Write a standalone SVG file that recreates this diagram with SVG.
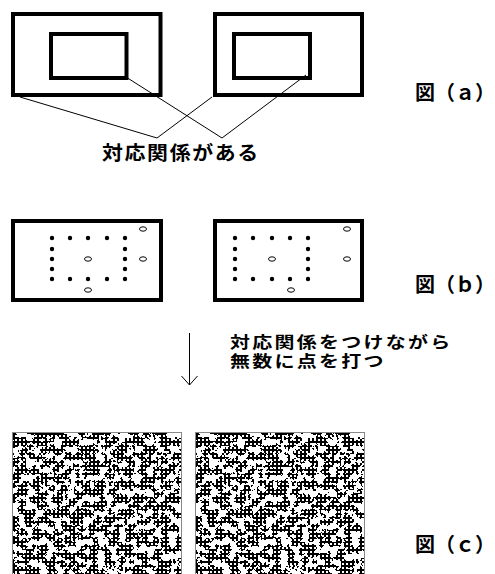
<svg xmlns="http://www.w3.org/2000/svg" xmlns:xlink="http://www.w3.org/1999/xlink" width="495" height="574" viewBox="0 0 495 574">
<style>
.box{fill:none;stroke:#000;stroke-width:4}
.ln{fill:none;stroke:#000;stroke-width:1}
.lbl{font-family:"Noto Sans CJK JP","Noto Sans CJK SC",sans-serif;font-weight:bold;fill:#000}
.fig{font-family:"Noto Sans CJK JP","Noto Sans CJK SC",sans-serif;font-size:20px;font-weight:bold;fill:#000}
.dot{fill:#000}
.ring{fill:#fff;stroke:#000;stroke-width:1}
.frame{fill:none;stroke:#888;stroke-width:1}
</style>
<defs>
<pattern id="plus" width="4" height="4" patternUnits="userSpaceOnUse">
<rect x="0" y="1" width="4" height="2" fill="#000" shape-rendering="crispEdges"/>
<rect x="1" y="0" width="2" height="4" fill="#000" shape-rendering="crispEdges"/>
</pattern>
<filter id="noise" x="0" y="0" width="1" height="1" color-interpolation-filters="sRGB">
<feTurbulence type="fractalNoise" baseFrequency="0.14" numOctaves="5" seed="11"/>
<feColorMatrix type="matrix" values="0 0 0 0 1  0 0 0 0 1  0 0 0 0 1  14 0 0 0 -6.1"/>
<feComponentTransfer><feFuncA type="discrete" tableValues="0 1"/></feComponentTransfer>
</filter>
<mask id="nm" maskUnits="userSpaceOnUse" x="0" y="0" width="170" height="142">
<rect x="0" y="0" width="170" height="142" fill="#fff" filter="url(#noise)"/>
</mask>
<g id="tex">
<rect x="0" y="0" width="170" height="142" fill="#fff"/>
<rect x="0" y="0" width="170" height="142" fill="url(#plus)" mask="url(#nm)"/>
<rect x="0.5" y="0.5" width="169" height="142" class="frame"/>
</g>
<marker id="vh" markerWidth="20" markerHeight="20" refX="10" refY="10" orient="auto" markerUnits="userSpaceOnUse">
<path d="M1 2L10 10L1 18" fill="none" stroke="#000" stroke-width="1"/>
</marker>
</defs>
<rect width="495" height="574" fill="#fff"/>

<g id="figA-left">
<rect class="box" x="13" y="14" width="147.5" height="81"/>
<rect class="box" x="51" y="34" width="75.5" height="44"/>
</g>
<g id="figA-right">
<rect class="box" x="215" y="14" width="147" height="81"/>
<rect class="box" x="234" y="34" width="76" height="44"/>
</g>
<g id="connectors">
<line class="ln" x1="20" y1="97" x2="157" y2="138"/>
<line class="ln" x1="126" y1="77" x2="222" y2="138"/>
<line class="ln" x1="212" y1="97" x2="157" y2="138"/>
<line class="ln" x1="306" y1="75" x2="222" y2="138"/>
<line class="ln" x1="189.5" y1="333" x2="189.5" y2="385" marker-end="url(#vh)"/>
</g>
<g id="labelA"><text class="lbl" font-size="19" transform="translate(102,160) scale(1.1,1)" letter-spacing="1.5">対応関係がある</text></g>
<g id="figA-label"><text class="fig" x="415" y="100">図（ａ）</text></g>

<g id="figB-left">
<rect class="box" x="13" y="221" width="148" height="79"/>
<g class="dot">
<circle cx="52" cy="238" r="2.2"/><circle cx="70" cy="238" r="2.2"/><circle cx="88" cy="238" r="2.2"/><circle cx="107" cy="238" r="2.2"/><circle cx="125" cy="238" r="2.2"/>
<circle cx="52" cy="249" r="2.2"/><circle cx="125" cy="249" r="2.2"/>
<circle cx="52" cy="259" r="2.2"/><circle cx="125" cy="259" r="2.2"/>
<circle cx="52" cy="269" r="2.2"/><circle cx="125" cy="269" r="2.2"/>
<circle cx="52" cy="279" r="2.2"/><circle cx="70" cy="279" r="2.2"/><circle cx="88" cy="279" r="2.2"/><circle cx="107" cy="279" r="2.2"/><circle cx="125" cy="279" r="2.2"/>
</g>
<ellipse class="ring" cx="143" cy="229" rx="3.5" ry="2.2"/>
<ellipse class="ring" cx="143" cy="259" rx="3.5" ry="2.2"/>
<ellipse class="ring" cx="88" cy="259" rx="3.5" ry="2.2"/>
<ellipse class="ring" cx="88" cy="290" rx="3.5" ry="2.2"/>
</g>
<g id="figB-right">
<rect class="box" x="215" y="221" width="147" height="79"/>
<g class="dot">
<circle cx="235" cy="238" r="2.2"/><circle cx="253" cy="238" r="2.2"/><circle cx="272" cy="238" r="2.2"/><circle cx="290" cy="238" r="2.2"/><circle cx="308" cy="238" r="2.2"/>
<circle cx="235" cy="249" r="2.2"/><circle cx="308" cy="249" r="2.2"/>
<circle cx="235" cy="259" r="2.2"/><circle cx="308" cy="259" r="2.2"/>
<circle cx="235" cy="269" r="2.2"/><circle cx="308" cy="269" r="2.2"/>
<circle cx="235" cy="279" r="2.2"/><circle cx="253" cy="279" r="2.2"/><circle cx="272" cy="279" r="2.2"/><circle cx="290" cy="279" r="2.2"/><circle cx="308" cy="279" r="2.2"/>
</g>
<ellipse class="ring" cx="347" cy="229" rx="3.5" ry="2.2"/>
<ellipse class="ring" cx="347" cy="259" rx="3.5" ry="2.2"/>
<ellipse class="ring" cx="272" cy="259" rx="3.5" ry="2.2"/>
<ellipse class="ring" cx="291" cy="290" rx="3.5" ry="2.2"/>
</g>
<g id="figB-label"><text class="fig" x="415" y="292">図（ｂ）</text></g>
<g id="labelB">
<text class="lbl" font-size="16" transform="translate(230,348) scale(1.25,1)" letter-spacing="1.8"><tspan x="0" y="0">対応関係をつけながら</tspan><tspan x="0" y="19">無数に点を打つ</tspan></text>
</g>

<g id="figC-left"><use xlink:href="#tex" x="12" y="432"/></g>
<g id="figC-right"><use xlink:href="#tex" x="195" y="432"/></g>
<g id="figC-label"><text class="fig" x="415" y="552">図（ｃ）</text></g>
</svg>
